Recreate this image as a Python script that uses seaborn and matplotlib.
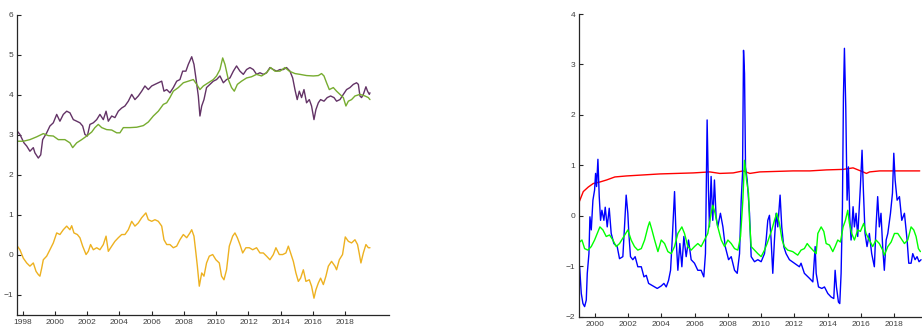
import matplotlib
matplotlib.use("Agg")
import matplotlib.pyplot as plt
import seaborn as sns
import pandas as pd

# ---- left panel: two yield series and their spread ----
pur_year = [1997.67, 1997.83, 1998.08, 1998.25, 1998.45, 1998.66, 1998.76, 1998.97, 1999.12, 1999.24,
            1999.49, 1999.69, 1999.90, 2000.11, 2000.31, 2000.52, 2000.73, 2000.93, 2001.14, 2001.35,
            2001.55, 2001.72, 2001.86, 2002.01, 2002.17, 2002.38, 2002.59, 2002.79, 2003.00, 2003.17,
            2003.31, 2003.52, 2003.72, 2003.93, 2004.14, 2004.34, 2004.55, 2004.76, 2004.96, 2005.17,
            2005.38, 2005.58, 2005.79, 2006.00, 2006.20, 2006.41, 2006.62, 2006.76, 2006.93, 2007.13,
            2007.34, 2007.55, 2007.75, 2007.92, 2008.12, 2008.27, 2008.48, 2008.62, 2008.74, 2008.89,
            2008.99, 2009.10, 2009.24, 2009.40, 2009.61, 2009.82, 2010.02, 2010.23, 2010.44, 2010.64,
            2010.85, 2011.06, 2011.26, 2011.47, 2011.68, 2011.88, 2012.09, 2012.30, 2012.50, 2012.71,
            2012.92, 2013.12, 2013.33, 2013.54, 2013.74, 2013.95, 2014.16, 2014.36, 2014.57, 2014.74,
            2014.88, 2015.02, 2015.15, 2015.29, 2015.44, 2015.60, 2015.77, 2015.91, 2016.06, 2016.18,
            2016.33, 2016.47, 2016.68, 2016.88, 2017.09, 2017.30, 2017.46, 2017.67, 2017.88, 2018.08,
            2018.29, 2018.50, 2018.70, 2018.81, 2018.91, 2019.01, 2019.12, 2019.28, 2019.38, 2019.49,
            2019.53]
pur_val = [3.09, 3.01, 2.80, 2.72, 2.59, 2.68, 2.55, 2.42, 2.50, 2.88,
           3.05, 3.22, 3.30, 3.51, 3.34, 3.51, 3.59, 3.55, 3.38, 3.34,
           3.30, 3.22, 3.01, 2.97, 3.26, 3.30, 3.38, 3.51, 3.38, 3.59,
           3.34, 3.47, 3.43, 3.59, 3.67, 3.72, 3.84, 4.01, 3.88, 3.97,
           4.09, 4.22, 4.13, 4.22, 4.26, 4.30, 4.34, 4.09, 4.13, 4.05,
           4.18, 4.34, 4.38, 4.59, 4.59, 4.76, 4.95, 4.76, 4.42, 3.97,
           3.47, 3.72, 3.88, 4.18, 4.26, 4.34, 4.38, 4.47, 4.30, 4.38,
           4.42, 4.59, 4.72, 4.59, 4.51, 4.63, 4.68, 4.63, 4.51, 4.55,
           4.51, 4.55, 4.68, 4.63, 4.59, 4.63, 4.63, 4.68, 4.59, 4.42,
           4.13, 3.88, 4.09, 3.93, 4.13, 3.80, 3.88, 3.72, 3.38, 3.63,
           3.80, 3.88, 3.84, 3.93, 3.97, 3.93, 3.84, 3.88, 4.01, 4.13,
           4.18, 4.26, 4.30, 4.26, 3.97, 3.93, 4.01, 4.20, 4.09, 4.01,
           4.05]

grn_year = [1997.67, 1998.04, 1998.45, 1998.87, 1999.28, 1999.59, 1999.90, 2000.21, 2000.62, 2000.93,
            2001.10, 2001.35, 2001.66, 2001.97, 2002.28, 2002.48, 2002.69, 2002.90, 2003.21, 2003.52,
            2003.83, 2004.03, 2004.24, 2004.65, 2005.07, 2005.48, 2005.79, 2006.10, 2006.41, 2006.72,
            2006.93, 2007.13, 2007.34, 2007.65, 2007.96, 2008.27, 2008.58, 2008.79, 2008.99, 2009.20,
            2009.51, 2009.82, 2010.02, 2010.23, 2010.40, 2010.54, 2010.75, 2010.95, 2011.12, 2011.31,
            2011.57, 2011.88, 2012.19, 2012.50, 2012.81, 2013.12, 2013.37, 2013.64, 2013.95, 2014.26,
            2014.53, 2014.88, 2015.19, 2015.60, 2016.02, 2016.33, 2016.53, 2016.68, 2016.84, 2017.01,
            2017.26, 2017.46, 2017.67, 2017.88, 2018.04, 2018.19, 2018.39, 2018.60, 2018.91, 2019.22,
            2019.43, 2019.53]
grn_val = [2.84, 2.84, 2.88, 2.95, 3.03, 2.98, 2.97, 2.88, 2.88, 2.80,
           2.68, 2.80, 2.88, 2.97, 3.07, 3.18, 3.26, 3.18, 3.13, 3.12,
           3.05, 3.05, 3.18, 3.18, 3.19, 3.23, 3.32, 3.47, 3.59, 3.76,
           3.80, 3.93, 4.09, 4.18, 4.30, 4.34, 4.38, 4.26, 4.13, 4.22,
           4.30, 4.38, 4.47, 4.63, 4.92, 4.76, 4.38, 4.18, 4.09, 4.26,
           4.34, 4.42, 4.45, 4.51, 4.47, 4.55, 4.68, 4.59, 4.59, 4.68,
           4.59, 4.53, 4.51, 4.48, 4.47, 4.48, 4.53, 4.47, 4.30, 4.13,
           4.18, 4.09, 4.01, 3.93, 3.72, 3.84, 3.88, 3.97, 4.01, 3.97,
           3.93, 3.88]

spr_year = [1997.67, 1997.83, 1998.04, 1998.25, 1998.45, 1998.66, 1998.83, 1998.97, 1999.07, 1999.18,
            1999.28, 1999.49, 1999.69, 1999.90, 2000.11, 2000.31, 2000.52, 2000.73, 2000.93, 2001.04,
            2001.18, 2001.39, 2001.55, 2001.72, 2001.93, 2002.07, 2002.21, 2002.38, 2002.59, 2002.79,
            2003.00, 2003.17, 2003.31, 2003.52, 2003.72, 2003.93, 2004.14, 2004.34, 2004.55, 2004.76,
            2004.96, 2005.17, 2005.38, 2005.64, 2005.79, 2006.00, 2006.20, 2006.41, 2006.62, 2006.76,
            2006.93, 2007.13, 2007.34, 2007.55, 2007.75, 2007.96, 2008.17, 2008.37, 2008.48, 2008.62,
            2008.74, 2008.83, 2008.95, 2009.10, 2009.24, 2009.40, 2009.57, 2009.78, 2009.98, 2010.19,
            2010.33, 2010.48, 2010.64, 2010.81, 2011.02, 2011.16, 2011.31, 2011.47, 2011.64, 2011.84,
            2012.05, 2012.26, 2012.50, 2012.71, 2012.92, 2013.12, 2013.33, 2013.54, 2013.70, 2013.91,
            2014.12, 2014.32, 2014.47, 2014.61, 2014.78, 2014.94, 2015.09, 2015.23, 2015.40, 2015.56,
            2015.77, 2015.91, 2016.06, 2016.18, 2016.33, 2016.47, 2016.64, 2016.80, 2016.95, 2017.15,
            2017.36, 2017.46, 2017.63, 2017.83, 2018.00, 2018.19, 2018.39, 2018.60, 2018.76, 2018.86,
            2018.97, 2019.12, 2019.28, 2019.43, 2019.53]
spr_val = [0.22, 0.13, -0.08, -0.20, -0.28, -0.20, -0.41, -0.49, -0.53, -0.33,
           -0.12, -0.03, 0.13, 0.30, 0.55, 0.51, 0.63, 0.72, 0.63, 0.73,
           0.55, 0.51, 0.43, 0.22, 0.01, 0.09, 0.26, 0.13, 0.18, 0.13,
           0.26, 0.47, 0.09, 0.22, 0.34, 0.43, 0.51, 0.51, 0.63, 0.84,
           0.72, 0.80, 0.93, 1.05, 0.88, 0.84, 0.88, 0.84, 0.72, 0.38,
           0.26, 0.26, 0.18, 0.22, 0.38, 0.51, 0.43, 0.55, 0.63, 0.47,
           0.05, -0.28, -0.78, -0.45, -0.53, -0.20, -0.03, 0.01, -0.12, -0.20,
           -0.53, -0.62, -0.37, 0.22, 0.47, 0.55, 0.43, 0.26, 0.05, 0.18,
           0.18, 0.13, 0.18, 0.05, 0.05, -0.03, -0.12, 0.01, 0.18, 0.01,
           0.01, 0.05, 0.22, 0.05, -0.16, -0.45, -0.66, -0.58, -0.37, -0.66,
           -0.62, -0.78, -1.08, -0.87, -0.70, -0.58, -0.74, -0.53, -0.28, -0.16,
           -0.28, -0.37, -0.12, 0.01, 0.45, 0.34, 0.30, 0.38, 0.26, 0.05,
           -0.20, 0.05, 0.26, 0.18, 0.18]

# ---- right panel: persistence, level and volatility estimates ----
red_year = [1999.06, 1999.30, 1999.60, 1999.90, 2000.30, 2000.70, 2001.20, 2001.90, 2002.91, 2003.91,
            2004.91, 2005.91, 2006.91, 2007.51, 2008.32, 2008.92, 2009.32, 2009.92, 2010.92, 2011.92,
            2012.93, 2013.93, 2014.93, 2015.53, 2016.13, 2016.33, 2016.53, 2017.13, 2017.94, 2018.74,
            2019.54]
red_val = [0.28, 0.48, 0.57, 0.64, 0.67, 0.71, 0.77, 0.79, 0.81, 0.83,
           0.84, 0.85, 0.87, 0.84, 0.85, 0.89, 0.84, 0.87, 0.88, 0.89,
           0.89, 0.91, 0.92, 0.95, 0.87, 0.84, 0.87, 0.89, 0.89, 0.89,
           0.89]

blu_year = [1999.08, 1999.18, 1999.28, 1999.38, 1999.48, 1999.54, 1999.64, 1999.70, 1999.78, 1999.88,
            1999.98, 2000.04, 2000.10, 2000.18, 2000.26, 2000.34, 2000.42, 2000.54, 2000.62, 2000.74,
            2000.86, 2000.98, 2001.14, 2001.34, 2001.48, 2001.68, 2001.78, 2001.88, 2001.98, 2002.04,
            2002.14, 2002.28, 2002.42, 2002.58, 2002.79, 2002.95, 2003.09, 2003.23, 2003.49, 2003.75,
            2003.99, 2004.15, 2004.29, 2004.43, 2004.55, 2004.65, 2004.79, 2004.89, 2004.99, 2005.11,
            2005.23, 2005.35, 2005.49, 2005.63, 2005.79, 2005.99, 2006.19, 2006.39, 2006.55, 2006.65,
            2006.75, 2006.83, 2006.89, 2006.99, 2007.09, 2007.19, 2007.29, 2007.39, 2007.55, 2007.70,
            2007.84, 2008.04, 2008.20, 2008.40, 2008.56, 2008.70, 2008.80, 2008.88, 2008.94, 2009.00,
            2009.06, 2009.16, 2009.30, 2009.40, 2009.60, 2009.80, 2010.00, 2010.20, 2010.30, 2010.40,
            2010.50, 2010.60, 2010.70, 2010.80, 2010.90, 2011.00, 2011.14, 2011.24, 2011.36, 2011.50,
            2011.70, 2012.00, 2012.30, 2012.40, 2012.60, 2012.91, 2013.11, 2013.17, 2013.25, 2013.31,
            2013.45, 2013.65, 2013.81, 2014.01, 2014.21, 2014.37, 2014.45, 2014.53, 2014.65, 2014.73,
            2014.81, 2014.89, 2014.95, 2015.01, 2015.09, 2015.17, 2015.25, 2015.33, 2015.41, 2015.53,
            2015.61, 2015.71, 2015.81, 2015.97, 2016.07, 2016.15, 2016.25, 2016.37, 2016.51, 2016.65,
            2016.81, 2016.91, 2017.01, 2017.11, 2017.21, 2017.31, 2017.41, 2017.52, 2017.62, 2017.78,
            2017.90, 2017.98, 2018.06, 2018.18, 2018.32, 2018.46, 2018.62, 2018.78, 2018.88, 2019.02,
            2019.12, 2019.26, 2019.38, 2019.50, 2019.62]
blu_val = [-1.01, -1.54, -1.74, -1.80, -1.67, -1.14, -0.75, -0.02, -0.28, 0.31,
           0.51, 0.84, 0.58, 1.12, 0.38, -0.09, 0.11, -0.09, 0.17, -0.22,
           0.15, -0.35, -0.55, -0.61, -0.85, -0.81, -0.22, 0.41, 0.05, -0.35,
           -0.81, -0.87, -0.81, -1.01, -1.01, -1.21, -1.18, -1.34, -1.39, -1.44,
           -1.39, -1.34, -1.41, -1.28, -1.08, -0.48, 0.48, -0.48, -1.08, -0.55,
           -1.01, -0.41, -0.81, -0.48, -0.87, -0.94, -1.08, -1.08, -1.21, -0.75,
           1.90, 0.51, -0.22, 0.78, -0.09, 0.71, -0.02, -0.22, 0.05, -0.22,
           -0.61, -0.87, -0.81, -1.08, -1.14, -0.75, 0.31, 0.84, 3.28, 2.82,
           0.97, 0.71, 0.05, -0.81, -0.91, -0.87, -0.91, -0.75, -0.48, -0.09,
           0.01, -0.48, -1.14, -0.48, 0.05, -0.22, 0.41, -0.22, -0.61, -0.75,
           -0.87, -0.94, -1.01, -0.94, -1.14, -1.24, -1.31, -1.01, -0.61, -1.14,
           -1.41, -1.44, -1.41, -1.54, -1.61, -1.64, -1.08, -1.41, -1.71, -1.74,
           -1.14, 0.18, 2.36, 3.32, 2.16, 0.31, 0.97, -0.02, -0.48, 0.18,
           -0.22, 0.05, -0.41, 0.58, 1.30, 0.51, -0.35, -0.61, -0.35, -0.75,
           -1.01, -0.22, 0.38, -0.22, 0.05, -0.61, -1.08, -0.48, -0.35, 0.05,
           0.45, 1.24, 0.71, 0.31, 0.38, -0.09, 0.05, -0.48, -0.94, -0.94,
           -0.75, -0.87, -0.81, -0.91, -0.87]

lim_year = [1999.08, 1999.22, 1999.38, 1999.58, 1999.78, 1999.98, 2000.14, 2000.30, 2000.48, 2000.68,
            2000.88, 2001.08, 2001.28, 2001.48, 2001.74, 2001.98, 2002.18, 2002.38, 2002.58, 2002.79,
            2002.99, 2003.19, 2003.29, 2003.43, 2003.59, 2003.79, 2003.99, 2004.19, 2004.39, 2004.59,
            2004.79, 2004.99, 2005.23, 2005.39, 2005.59, 2005.79, 2005.99, 2006.19, 2006.39, 2006.59,
            2006.79, 2006.99, 2007.09, 2007.23, 2007.39, 2007.60, 2007.80, 2008.00, 2008.20, 2008.40,
            2008.60, 2008.76, 2008.90, 2009.00, 2009.12, 2009.24, 2009.30, 2009.40, 2009.60, 2009.80,
            2010.00, 2010.20, 2010.36, 2010.50, 2010.64, 2010.80, 2010.94, 2011.10, 2011.26, 2011.40,
            2011.60, 2011.90, 2012.20, 2012.40, 2012.60, 2012.77, 2012.91, 2013.11, 2013.31, 2013.41,
            2013.61, 2013.77, 2013.91, 2014.11, 2014.31, 2014.45, 2014.61, 2014.77, 2014.93, 2015.07,
            2015.21, 2015.31, 2015.45, 2015.61, 2015.81, 2015.97, 2016.17, 2016.31, 2016.51, 2016.71,
            2016.91, 2017.11, 2017.31, 2017.41, 2017.62, 2017.82, 2018.02, 2018.22, 2018.42, 2018.62,
            2018.82, 2019.02, 2019.18, 2019.32, 2019.46, 2019.58]
lim_val = [-0.52, -0.48, -0.65, -0.68, -0.61, -0.48, -0.35, -0.22, -0.28, -0.41,
           -0.38, -0.48, -0.61, -0.55, -0.41, -0.28, -0.48, -0.61, -0.68, -0.65,
           -0.48, -0.22, -0.12, -0.28, -0.48, -0.71, -0.48, -0.55, -0.71, -0.75,
           -0.61, -0.35, -0.22, -0.35, -0.61, -0.68, -0.61, -0.55, -0.61, -0.48,
           -0.35, 0.05, 0.21, 0.05, -0.22, -0.48, -0.61, -0.48, -0.55, -0.65,
           -0.68, -0.41, 0.31, 1.10, 0.71, 0.45, -0.09, -0.61, -0.68, -0.75,
           -0.81, -0.68, -0.55, -0.41, -0.28, -0.09, 0.05, -0.15, -0.48, -0.61,
           -0.68, -0.71, -0.78, -0.68, -0.65, -0.55, -0.61, -0.68, -0.75, -0.35,
           -0.22, -0.31, -0.55, -0.58, -0.71, -0.61, -0.48, -0.52, -0.22, -0.09,
           0.11, -0.15, -0.35, -0.48, -0.28, -0.31, -0.15, -0.35, -0.48, -0.61,
           -0.48, -0.55, -0.68, -0.78, -0.61, -0.52, -0.35, -0.35, -0.45, -0.55,
           -0.48, -0.22, -0.28, -0.41, -0.65, -0.71]

left_xticks = list(range(1998, 2019, 2))
left_yticks = list(range(-1, 7))
right_xticks = list(range(2000, 2019, 2))
right_yticks = list(range(-2, 5))

sns.set_theme(style="ticks")
plt.rcParams["font.family"] = ["Liberation Sans Narrow", "Liberation Sans", "DejaVu Sans"]

fig = plt.figure(figsize=(9.22, 3.31), dpi=100)
fig.patch.set_facecolor("white")
ax1 = fig.add_axes([0.0188, 0.0483, 0.4031, 0.9073])
ax2 = fig.add_axes([0.6283, 0.0432, 0.3714, 0.9145])

lw = 1.0
sns.lineplot(x=pur_year, y=pur_val, ax=ax1, color="#633366", lw=lw, estimator=None)
sns.lineplot(x=grn_year, y=grn_val, ax=ax1, color="#77AC30", lw=lw, estimator=None)
sns.lineplot(x=spr_year, y=spr_val, ax=ax1, color="#EDB120", lw=lw, estimator=None)

sns.lineplot(x=red_year, y=red_val, ax=ax2, color="#FF0000", lw=lw, estimator=None)
sns.lineplot(x=blu_year, y=blu_val, ax=ax2, color="#0000FF", lw=lw, estimator=None)
sns.lineplot(x=lim_year, y=lim_val, ax=ax2, color="#00FF00", lw=lw, estimator=None)

ax1.set_xlim(1997.67, 2020.71)
ax1.set_ylim(-1.5, 6)
ax1.set_xticks(left_xticks)
ax1.set_yticks(left_yticks)

ax2.set_xlim(1999.06, 2019.66)
ax2.set_ylim(-2, 4)
ax2.set_xticks(right_xticks)
ax2.set_yticks(right_yticks)

for ax in (ax1, ax2):
    ax.set_facecolor("white")
    ax.set_xlabel("")
    ax.set_ylabel("")
    for side in ("top", "right"):
        ax.spines[side].set_visible(False)
    for side in ("left", "bottom"):
        ax.spines[side].set_color("#262626")
        ax.spines[side].set_linewidth(0.9)
    ax.tick_params(direction="in", length=3, width=0.8, color="#262626",
                   labelsize=6, labelcolor="#404040", pad=3)

fig.savefig("out.png", dpi=100, facecolor="white")
